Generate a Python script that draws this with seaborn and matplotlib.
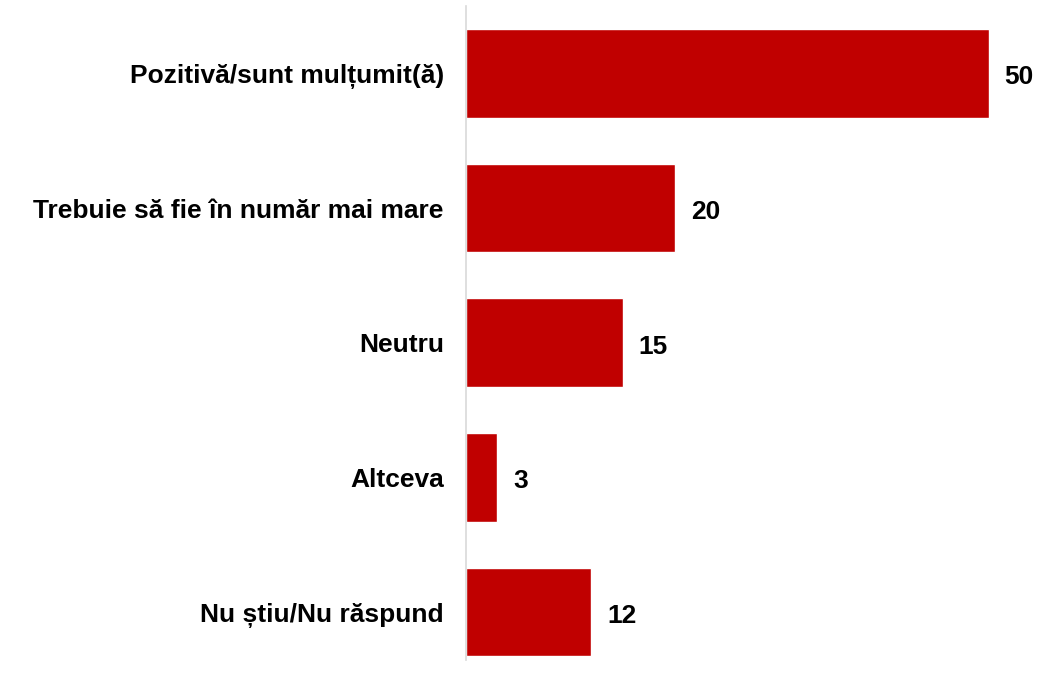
import matplotlib
matplotlib.use("Agg")
import matplotlib.pyplot as plt
import seaborn as sns
import pandas as pd

categories = ["Pozitivă/sunt mulțumit(ă)", "Trebuie să fie în număr mai mare",
              "Neutru", "Altceva", "Nu știu/Nu răspund"]
values = [50, 20, 15, 3, 12]

sns.set_style("white")
plt.rcParams['font.family'] = ['Liberation Sans', 'DejaVu Sans']

df = pd.DataFrame({"cat": categories, "val": values})

fig = plt.figure(figsize=(10.61, 6.74), dpi=100)
ax = fig.add_axes([466/1061, 1 - 660/674, 575/1061, 654/674])
sns.barplot(data=df, x="val", y="cat", orient="h", color="#C00000",
            saturation=1, width=0.66, ax=ax)
ax.set_xlim(0, 55)
ax.set_ylim(4.356, -0.5)
for s in ["top", "right", "bottom"]:
    ax.spines[s].set_visible(False)
ax.spines["left"].set_color("#D9D9D9")
ax.spines["left"].set_linewidth(1.2)
ax.set_xticks([])
ax.set_xlabel("")
ax.set_ylabel("")
ax.tick_params(axis="y", length=0, pad=16, labelcolor="black")
for lab in ax.get_yticklabels():
    lab.set_fontweight("bold")
    lab.set_fontsize(19)
for i, v in enumerate(values):
    ax.text(v + 1.5, i + 0.03, str(v), va="center", ha="left",
            fontsize=19, fontweight="bold", color="black")
fig.savefig("out.png", dpi=100)
